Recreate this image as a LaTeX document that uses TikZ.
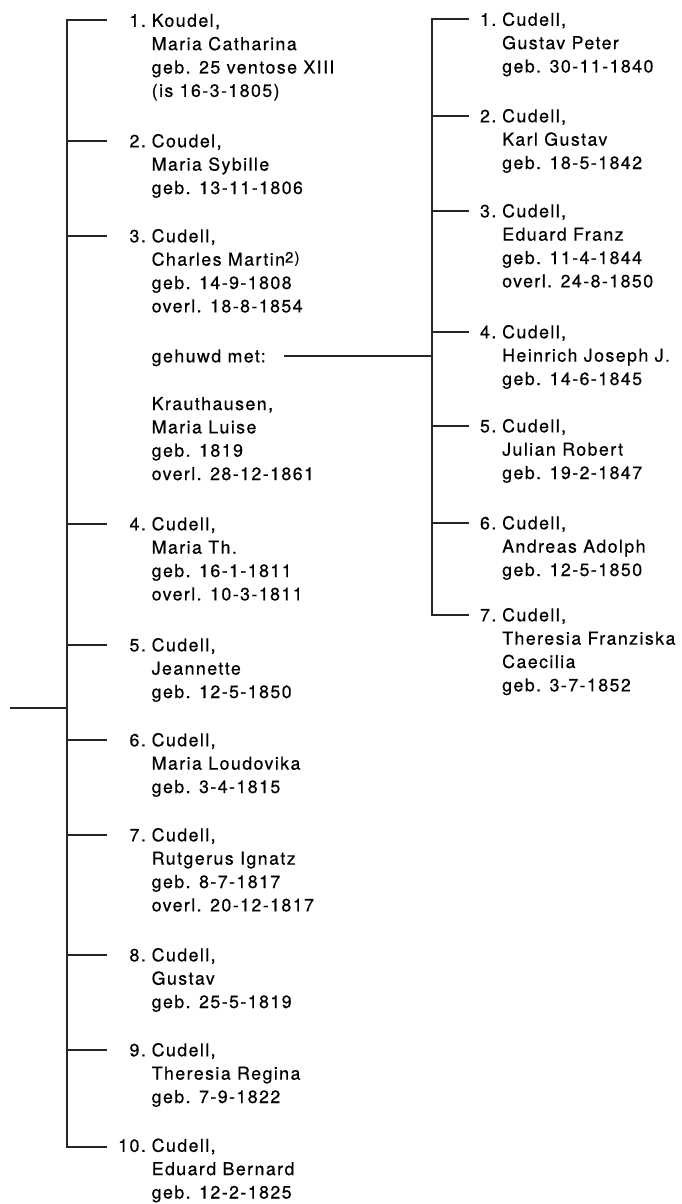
\documentclass[tikz,border=0pt]{standalone}
\usepackage{fontspec}
\setmainfont{TeX Gyre Heros}[LetterSpace=8, FakeBold=0.5]
\newcommand\entrylines[1]{\begin{tabular}[t]{@{}l@{}}#1\end{tabular}}
\newcommand\supnote[1]{\raisebox{3pt}{\fontsize{15}{15}\selectfont #1}}
\begin{document}
\begin{tikzpicture}[x=1pt,y=-1pt,
  line width=1.4pt, line join=miter,
  every node/.style={font=\fontsize{17.8}{23.35}\selectfont, text=black},
  num/.style={inner sep=0pt, anchor=east, text height=12.7pt, text depth=0pt},
  txt/.style={inner sep=0pt, anchor=base west},
  link/.style={draw=black!85}]
\useasboundingbox (0,0) rectangle (681,1204);
% ---------- helper coordinates
\coordinate (TL) at (107,0);
\coordinate (TR) at (469,0);
% ---------- entries: number node + text node
\newcommand\entry[5]{%
  \node[num] (n#1) at (#2,#3) {#4};
  \node[txt] (p#1) at ([xshift=4.5pt,yshift=-6.3pt]n#1.east) {\entrylines{#5}};
}
% ---------- left column
\entry{L1}{146.5}{20.5}{1.}{Koudel,\\Maria Catharina\\geb. 25 ventose XIII\\(is 16-3-1805)}
\entry{L2}{146.5}{141}{2.}{Coudel,\\Maria Sybille\\geb. 13-11-1806}
\entry{L3}{146.5}{236}{3.}{Cudell,\\Charles Martin\supnote{2)}\\geb. 14-9-1808\\overl. 18-8-1854}
\node[num, anchor=west] (geh) at (151,356) {gehuwd met:};
\node[txt] (spouse) at (151,410) {\entrylines{Krauthausen,\\Maria Luise\\geb. 1819\\overl. 28-12-1861}};
\entry{L4}{146.5}{524}{4.}{Cudell,\\Maria Th.\\geb. 16-1-1811\\overl. 10-3-1811}
\entry{L5}{146.5}{645}{5.}{Cudell,\\Jeannette\\geb. 12-5-1850}
\entry{L6}{146.5}{740}{6.}{Cudell,\\Maria Loudovika\\geb. 3-4-1815}
\entry{L7}{146.5}{835}{7.}{Cudell,\\Rutgerus Ignatz\\geb. 8-7-1817\\overl. 20-12-1817}
\entry{L8}{146.5}{955}{8.}{Cudell,\\Gustav\\geb. 25-5-1819}
\entry{L9}{146.5}{1050}{9.}{Cudell,\\Theresia Regina\\geb. 7-9-1822}
\entry{L10}{146.5}{1145.5}{10.}{Cudell,\\Eduard Bernard\\geb. 12-2-1825}
% ---------- right column
\entry{R1}{497}{19.5}{1.}{Cudell,\\Gustav Peter\\geb. 30-11-1840}
\entry{R2}{497}{116}{2.}{Cudell,\\Karl Gustav\\geb. 18-5-1842}
\entry{R3}{497}{211}{3.}{Cudell,\\Eduard Franz\\geb. 11-4-1844\\overl. 24-8-1850}
\entry{R4}{497}{332}{4.}{Cudell,\\Heinrich Joseph J.\\geb. 14-6-1845}
\entry{R5}{497}{426}{5.}{Cudell,\\Julian Robert\\geb. 19-2-1847}
\entry{R6}{497}{523}{6.}{Cudell,\\Andreas Adolph\\geb. 12-5-1850}
\entry{R7}{497}{615}{7.}{Cudell,\\Theresia Franziska\\Caecilia\\geb. 3-7-1852}
% ---------- left spine
\coordinate (jL1) at (67,20);
\coordinate (jL2) at (67,141);
\coordinate (jL3) at (67,236);
\coordinate (jL4) at (67,524);
\coordinate (jL5) at (67,645);
\coordinate (jL6) at (67,740);
\coordinate (jL7) at (67,835);
\coordinate (jL8) at (67,955);
\coordinate (jL9) at (67,1050);
\coordinate (jL10) at (67,1147);
\coordinate (jroot) at (67,708);
\coordinate (root) at (10,708);
\draw[link] (jL1 -| TL) -- (jL1) -- (jL10) -- (jL10 -| TL);
\foreach \i in {2,...,9} \draw[link] (jL\i) -- (jL\i -| TL);
\draw[link] (root) -- (jroot);
% ---------- right spine
\coordinate (jR1) at (432,19);
\coordinate (jR2) at (432,116);
\coordinate (jR3) at (432,211);
\coordinate (jR4) at (432,332);
\coordinate (jR5) at (432,426);
\coordinate (jR6) at (432,523);
\coordinate (jR7) at (432,615);
\coordinate (jRg) at (432,356);
\draw[link] (jR1 -| TR) -- (jR1) -- (jR7) -- (jR7 -| TR);
\foreach \i in {2,...,6} \draw[link] (jR\i) -- (jR\i -| TR);
\draw[link, shorten <=18pt] (geh.east) -- (jRg);
\end{tikzpicture}
\end{document}
